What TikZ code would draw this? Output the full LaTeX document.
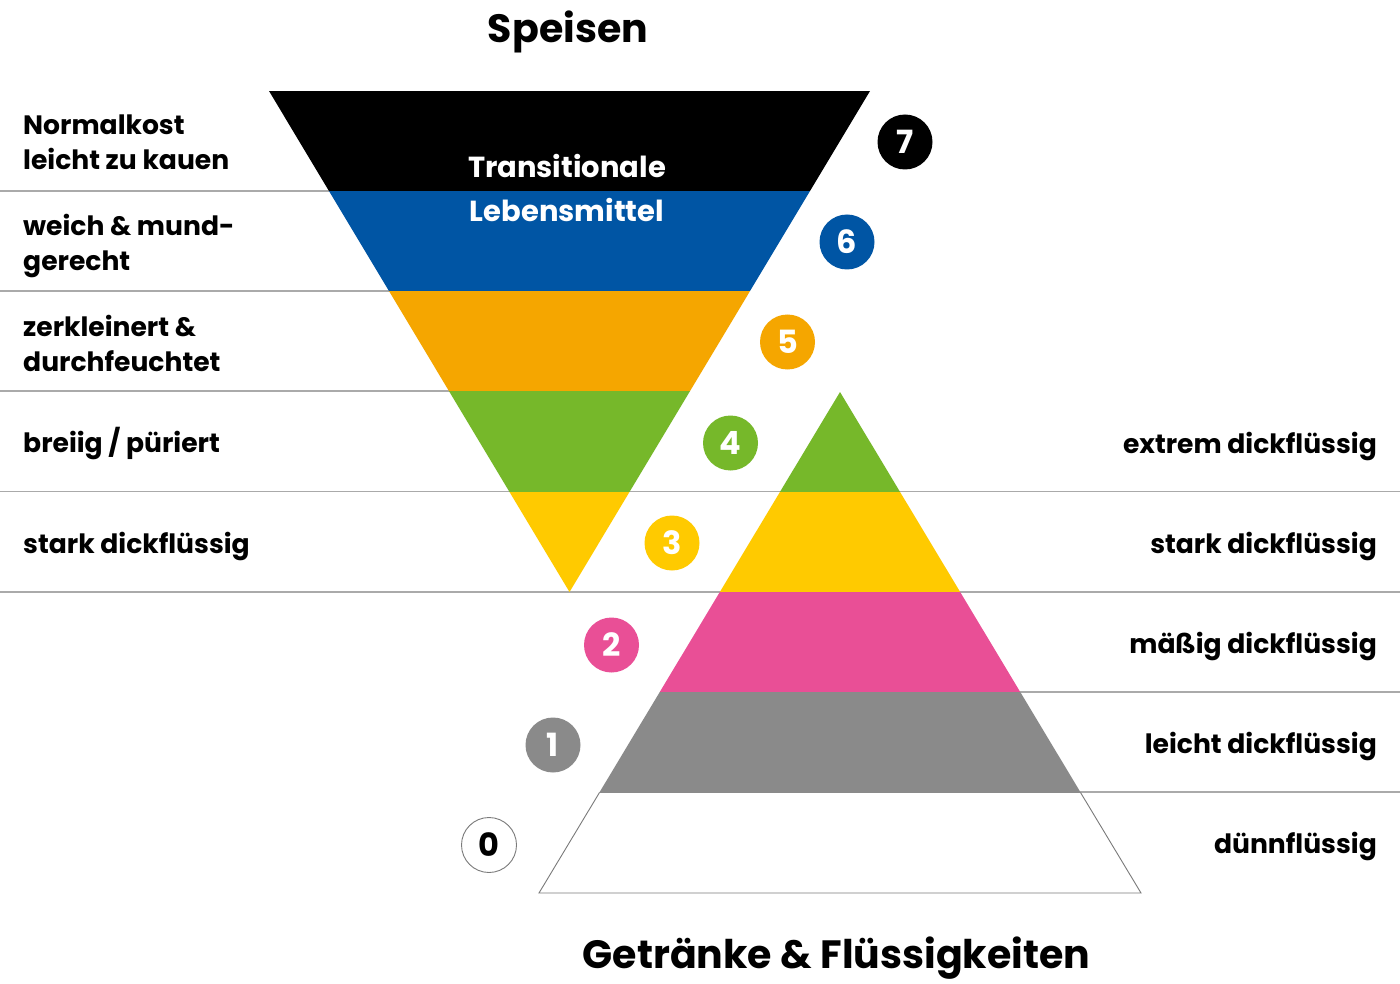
\documentclass[tikz,border=0pt]{standalone}
\usepackage{fontspec}
\setmainfont{Poppins}
\definecolor{cBlack}{HTML}{000000}
\definecolor{cBlue}{HTML}{0055A4}
\definecolor{cOrange}{HTML}{F5A600}
\definecolor{cGreen}{HTML}{76B82A}
\definecolor{cYellow}{HTML}{FFCA00}
\definecolor{cPink}{HTML}{E94F96}
\definecolor{cGray}{HTML}{8A8A8A}
\definecolor{cLine}{HTML}{AAAAAA}
\definecolor{cOutline}{HTML}{7A7A7A}
\begin{document}
\begin{tikzpicture}[x=1pt,y=-1pt,
  sep/.style={draw=cLine,line width=1.3pt},
  lbl/.style={inner sep=0pt,font=\fontsize{26.6}{30}\selectfont\bfseries,text=black},
  lleft/.style={lbl,anchor=base west},
  lright/.style={lbl,anchor=base east},
  ttl/.style={inner sep=0pt,anchor=base,font=\fontsize{39.5}{44}\selectfont\bfseries,text=black},
  ctr/.style={inner sep=0pt,anchor=base,text=white,font=\fontsize{29}{32}\selectfont\bfseries},
  numc/.style={circle,minimum size=55pt,inner sep=0pt,text=white,font=\fontsize{32}{32}\selectfont\bfseries},
]
\useasboundingbox (0,0) rectangle (1400,984);
\fill[white] (0,0) rectangle (1400,984);

% separator lines
\draw[sep] (0,191) -- (569,191);
\draw[sep] (0,291) -- (569,291);
\draw[sep] (0,391) -- (569,391);
\draw[sep] (0,491.5) -- (1400,491.5);
\draw[sep] (0,592) -- (1400,592);
\draw[sep] (840,692) -- (1400,692);
\draw[sep] (840,792) -- (1400,792);

% inverted triangle (Speisen)
\begin{scope}
  \clip (269,91) -- (870,91) -- (569.5,592) -- cycle;
  \fill[cBlack]  (260,91)  rectangle (880,191);
  \fill[cBlue]   (260,191) rectangle (880,291);
  \fill[cOrange] (260,291) rectangle (880,391);
  \fill[cGreen]  (260,391) rectangle (880,491.5);
  \fill[cYellow] (260,491.5) rectangle (880,600);
\end{scope}

% upright triangle (Getraenke)
\begin{scope}
  \clip (840,392) -- (1141,893) -- (539,893) -- cycle;
  \fill[cGreen]  (530,380) rectangle (1150,492);
  \fill[cYellow] (530,492) rectangle (1150,592);
  \fill[cPink]   (530,592) rectangle (1150,692);
  \fill[cGray]   (530,692) rectangle (1150,792.5);
\end{scope}
\draw[draw=cOutline,line width=0.9pt] (599.5,792.5) -- (539,893) -- (1141,893) -- (1080.5,792.5);

% titles
\node[ttl] (tS) at (568,42.5) {Speisen};
\node[ttl] (tG) at (836.5,968) {Getränke \& Flüssigkeiten};

% centre label
\node[ctr] (tr1) at (567,178) {Transitionale};
\node[ctr] (tr2) at (567,222) {Lebensmittel};

% left labels
\node[lleft] (l7a) at (23,135) {Normalkost};
\node[lleft] (l7b) at (23,170) {leicht zu kauen};
\node[lleft] (l6a) at (23,235.5) {weich \& mund-};
\node[lleft] (l6b) at (23,270.5) {gerecht};
\node[lleft] (l5a) at (23,336) {zerkleinert \&};
\node[lleft] (l5b) at (23,371) {durchfeuchtet};
\node[lleft] (l4) at (23,452) {breiig / püriert};
\node[lleft] (l3) at (23,553) {stark dickflüssig};

% right labels
\node[lright] (r4) at (1377,453) {extrem dickflüssig};
\node[lright] (r3) at (1377,553) {stark dickflüssig};
\node[lright] (r2) at (1377,653) {mäßig dickflüssig};
\node[lright] (r1) at (1377,753) {leicht dickflüssig};
\node[lright] (r0) at (1377,853) {dünnflüssig};

% level circles
\node[numc,fill=cBlack]  (n7) at (905,142) {7};
\node[numc,fill=cBlue]   (n6) at (847,242) {6};
\node[numc,fill=cOrange] (n5) at (787.5,342) {5};
\node[numc,fill=cGreen]  (n4) at (730.5,443) {4};
\node[numc,fill=cYellow] (n3) at (672,543) {3};
\node[numc,fill=cPink]   (n2) at (611.5,645) {2};
\node[numc,fill=cGray]   (n1) at (553,745) {1};
\node[numc,fill=white,draw=cOutline,line width=0.9pt,text=black] (n0) at (489,845) {0};
\end{tikzpicture}
\end{document}
